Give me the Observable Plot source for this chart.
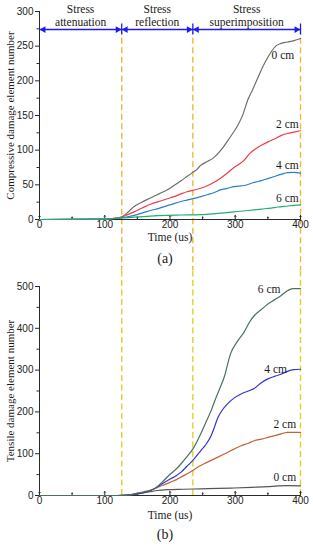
<!DOCTYPE html>
<html>
<head>
<meta charset="utf-8">
<script src="https://cdn.jsdelivr.net/npm/d3@7"></script>
<script src="https://cdn.jsdelivr.net/npm/@observablehq/plot@0.6"></script>
<style>
  html, body { margin: 0; padding: 0; background: #fff; }
  #chart svg { display: block; }
</style>
</head>
<body>
<div id="chart"></div>
<script>
// ---------- data ----------
const xTicks = [0, 100, 200, 300, 400];
const xMinor = [50, 150, 250, 350];
const yTicksA = [0, 50, 100, 150, 200, 250, 300];
const yMinorA = [25, 75, 125, 175, 225, 275];
const yTicksB = [0, 100, 200, 300, 400, 500];
const yMinorB = [50, 150, 250, 350, 450];

const stageBounds = [126, 235, 400];
const stageNames = ["Stress\nattenuation", "Stress\nreflection", "Stress\nsuperimposition"];
const stageStart = [0, 126, 235];
const stageEnd = [126, 235, 400];
const arrowLevel = 274;

// (a) compressive damage element number
const comp0 = [[0,0],[100,0.5],[115,1.5],[124,3],[135,10],[144,18],[157,25],[170,31],[183,37],[196,43],[206,49],[217,56],[226,62],[235,68],[241,72],[247,78],[258,84],[268,90],[278,100],[288,113],[296,124],[304,136],[312,152],[319,172],[327,188],[334,203],[342,220],[350,234],[356,243],[362,250],[370,254],[380,256],[390,258],[400,261]];
const comp2 = [[0,0],[100,0.5],[115,1.5],[124,3],[135,7],[145,11],[158,17],[170,22],[183,26],[196,30],[206,33],[217,37],[226,40],[235,42],[247,45],[258,49],[268,54],[278,60],[288,67],[298,75],[308,81],[314,86],[322,95],[330,101],[340,107],[350,112],[360,116],[370,121],[380,124],[390,126],[400,128]];
const comp4 = [[0,0],[100,0.5],[115,1.5],[124,2.5],[135,4],[145,6],[158,9.5],[170,13],[183,16],[196,20],[206,23],[217,26],[226,28],[235,30],[247,33],[258,36],[268,39],[278,43],[288,45],[298,47.5],[314,49],[327,53],[340,56],[350,59],[360,62],[370,65],[380,67.5],[390,68],[400,67]];
const comp6 = [[0,0],[100,0.5],[115,1.5],[124,2],[145,3.5],[170,5],[196,6],[217,6.5],[247,7],[270,8.5],[298,11],[320,13],[340,15],[355,16.5],[365,18],[380,19.5],[390,20.5],[400,21]];
const compNames = ["0 cm", "2 cm", "4 cm", "6 cm"];
const compColors = ["#6e6e6e", "#f23a4e", "#2a7fc9", "#1fae72"];
const compLabelT = [373, 380, 380, 380];
const compLabelV = [237, 138, 78, 31];

// (b) tensile damage element number
const tens0 = [[0,0],[120,0],[135,1],[150,4],[165,8],[180,12],[196,14],[220,15],[247,16],[275,17],[298,18],[325,19.5],[350,21],[365,23],[380,23.5],[400,23]];
const tens2 = [[0,0],[120,0],[135,1],[150,4],[165,9],[176,16],[188,24],[201,32],[210,38],[217,44],[226,52],[235,60],[247,72],[255,78],[263,84],[275,93],[288,103],[298,111],[309,119],[320,125],[329,131],[340,135],[350,139],[365,145],[380,151],[390,151],[400,151]];
const tens4 = [[0,0],[120,0],[135,1],[150,4],[165,9],[176,16],[188,28],[201,40],[210,48],[217,56],[226,70],[235,84],[247,107],[255,122],[263,143],[268,163],[273,185],[280,204],[288,219],[298,233],[309,243],[320,250],[329,256],[340,270],[350,279],[360,285],[370,290],[380,297],[390,301],[400,302]];
const tens6 = [[0,0],[120,0],[135,1],[145,4],[160,9],[176,16],[188,32],[201,52],[210,64],[217,76],[226,93],[235,111],[247,147],[255,175],[263,203],[270,232],[276,255],[283,283],[293,340],[303,368],[314,392],[322,415],[329,430],[340,445],[350,458],[360,468],[370,478],[380,490],[388,495],[400,495]];
const tensNames = ["0 cm", "2 cm", "4 cm", "6 cm"];
const tensColors = ["#555555", "#c0643a", "#3434cc", "#4b715d"];
const tensLabelT = [376, 376, 362, 352];
const tensLabelV = [44, 171, 301, 494];

// ---------- helpers ----------
const SERIF = "'Liberation Serif', 'Times New Roman', serif";
const SANS = "'Liberation Sans', Arial, sans-serif";
const BLUE = "#1c1cf0";
const AX = "#2a2a2a";

function rows(series, names, colors) {
  return series.flatMap((s, i) => s.map(([t, v]) => ({t, v, name: names[i], color: colors[i]})));
}
function labelRows(names, ts, vs) {
  return names.map((n, i) => ({name: n, t: ts[i], v: vs[i]}));
}

function axes(yTicks, yMinor) {
  return [
    Plot.axisY({ticks: yTicks, tickSize: 4, tickPadding: 2, label: null, stroke: AX, fill: "#222"}),
    Plot.axisY({ticks: yMinor, tickSize: 2.5, tickFormat: () => "", label: null, stroke: AX}),
    Plot.axisX({ticks: xTicks, tickSize: 0, tickPadding: 1.5, label: null, fill: "#222"}),
    Plot.vector(xTicks, {x: d => d, y: () => 0, length: 4, rotate: 0, anchor: "start", stroke: AX, strokeWidth: 1}),
    Plot.vector(xMinor, {x: d => d, y: () => 0, length: 2.5, rotate: 0, anchor: "start", stroke: AX, strokeWidth: 1}),
    Plot.ruleX([0], {stroke: AX, strokeWidth: 1}),
    Plot.ruleY([0], {stroke: AX, strokeWidth: 1})
  ];
}

// ---------- (a) ----------
const compData = rows([comp0, comp2, comp4, comp6], compNames, compColors);
const stages = stageNames.map((n, i) => ({name: n, a: stageStart[i], b: stageEnd[i], mid: (stageStart[i] + stageEnd[i]) / 2}));
const heads = stages.flatMap(s => [{x: s.a, dir: -1}, {x: s.b, dir: 1}]);

const plotA = Plot.plot({
  width: 313, height: 270,
  marginLeft: 39, marginRight: 13, marginTop: 11, marginBottom: 51,
  x: {domain: [0, 400]},
  y: {domain: [0, 300]},
  style: {fontFamily: SANS, fontSize: "10px", color: "#222", background: "white"},
  marks: [
    Plot.ruleX(stageBounds, {x: d => d, y1: -76, y2: 270, stroke: "#f3b637", strokeWidth: 1.4, strokeDasharray: "6,3.5"}),
    ...axes(yTicksA, yMinorA),
    Plot.line(compData, {x: "t", y: "v", z: "name", stroke: "color", strokeWidth: 1.2, curve: "monotone-x"}),
    Plot.text(labelRows(compNames, compLabelT, compLabelV), {x: "t", y: "v", text: "name", fontFamily: SERIF, fontSize: 11.5, fill: "#1a1a1a"}),
    Plot.link(stages, {x1: "a", x2: "b", y1: () => arrowLevel, y2: () => arrowLevel, stroke: BLUE, strokeWidth: 1.5}),
    Plot.dot(heads.filter(h => h.dir > 0), {x: "x", y: () => arrowLevel, symbol: "triangle2", r: 3.2, fill: BLUE, stroke: "none", rotate: 90, dx: -4}),
    Plot.dot(heads.filter(h => h.dir < 0), {x: "x", y: () => arrowLevel, symbol: "triangle2", r: 3.2, fill: BLUE, stroke: "none", rotate: -90, dx: 4}),
    Plot.ruleX(stageBounds, {x: d => d, y1: arrowLevel - 8, y2: arrowLevel + 8, stroke: BLUE, strokeWidth: 1.3}),
    Plot.text(stages, {x: "mid", y: () => 294, text: "name", lineHeight: 1.12, fontFamily: SERIF, fontSize: 11.5, fill: "#1a1a1a"}),
    Plot.text(["Compressive damage element number"], {frameAnchor: "left", textAnchor: "middle", rotate: -90, dx: -29, fontFamily: SERIF, fontSize: 11, fill: "#1a1a1a"}),
    Plot.text(["Time (us)"], {frameAnchor: "bottom", dy: 21, fontFamily: SERIF, fontSize: 11.5, fill: "#1a1a1a"}),
    Plot.text(["(a)"], {frameAnchor: "bottom", dy: 43, dx: -5, fontFamily: SERIF, fontSize: 14, fill: "#1a1a1a"})
  ]
});

// ---------- (b) ----------
const tensData = rows([tens0, tens2, tens4, tens6], tensNames, tensColors);

const plotB = Plot.plot({
  width: 313, height: 280,
  marginLeft: 39, marginRight: 13, marginTop: 16, marginBottom: 55,
  x: {domain: [0, 400]},
  y: {domain: [0, 500]},
  style: {fontFamily: SANS, fontSize: "10px", color: "#222", background: "white"},
  marks: [
    Plot.ruleX(stageBounds, {x: d => d, y1: 0, y2: 545, stroke: "#e2cf2c", strokeWidth: 1.4, strokeDasharray: "6,3.5"}),
    ...axes(yTicksB, yMinorB),
    Plot.line(tensData, {x: "t", y: "v", z: "name", stroke: "color", strokeWidth: 1.2, curve: "monotone-x"}),
    Plot.text(labelRows(tensNames, tensLabelT, tensLabelV), {x: "t", y: "v", text: "name", fontFamily: SERIF, fontSize: 11.5, fill: "#1a1a1a"}),
    Plot.text(["Tensile damage element number"], {frameAnchor: "left", textAnchor: "middle", rotate: -90, dx: -29, fontFamily: SERIF, fontSize: 11, fill: "#1a1a1a"}),
    Plot.text(["Time (us)"], {frameAnchor: "bottom", dy: 23, fontFamily: SERIF, fontSize: 11.5, fill: "#1a1a1a"}),
    Plot.text(["(b)"], {frameAnchor: "bottom", dy: 43, dx: -5, fontFamily: SERIF, fontSize: 14, fill: "#1a1a1a"})
  ]
});

const root = document.getElementById("chart");
root.appendChild(plotA);
root.appendChild(plotB);
</script>
</body>
</html>
